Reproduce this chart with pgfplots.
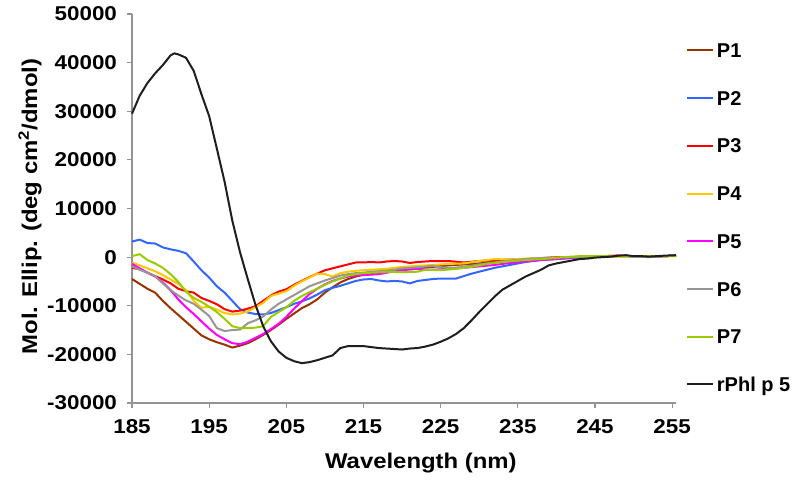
\documentclass[border=0pt]{standalone}
\usepackage{pgfplots}
\pgfplotsset{compat=1.18}
\usepackage{fontspec}
\setmainfont{Liberation Sans}
\newfontfamily\stfont[FakeStretch=1.12]{Liberation Sans}
\definecolor{cP1}{RGB}{153,51,0}
\definecolor{cP2}{RGB}{51,102,255}
\definecolor{cP3}{RGB}{255,0,0}
\definecolor{cP4}{RGB}{255,200,0}
\definecolor{cP5}{RGB}{255,0,255}
\definecolor{cP6}{RGB}{150,150,150}
\definecolor{cP7}{RGB}{153,204,0}
\definecolor{cPh}{RGB}{30,30,30}
\begin{document}
\begin{tikzpicture}
\useasboundingbox (0,0) rectangle (600pt,365.25pt);
\begin{axis}[
  at={(99pt,63pt)}, anchor=south west,
  scale only axis, width=408pt, height=291.75pt,
  xmin=185, xmax=255.5, ymin=-30000, ymax=50000,
  axis lines=left,
  axis line style={-, draw=gray!85, line width=0.8pt},
  tick style={draw=gray!85, line width=0.8pt},
  tick align=outside, major tick length=3.75pt,
  xtick={185,195,...,255},
  ytick={-30000,-20000,...,50000},
  scaled y ticks=false, scaled x ticks=false,
  /pgf/number format/assume math mode=true,
  /pgf/number format/1000 sep={},
  ticklabel style={font=\stfont\fontsize{15}{17}\selectfont\bfseries},
  xticklabel style={yshift=-5pt},
  yticklabel style={xshift=-4pt},
  label style={font=\stfont\fontsize{16}{18}\selectfont\bfseries},
  xlabel={Wavelength (nm)},
  ylabel={Mol. Ellip. (deg cm\textsuperscript{2}/dmol)},
  xlabel style={at={(axis description cs:0.531,-0.154)}, anchor=center},
  ylabel style={at={(axis description cs:-0.1875,0.505)}, anchor=center},
  clip=false,
  legend cell align=left,
  legend image code/.code={\draw[#1] (0pt,0pt) -- (19.5pt,0pt);},
  legend style={at={(1,1)}, anchor=north west, xshift=7.5pt, yshift=-21.8pt,
    draw=none, fill=none, inner sep=0pt, row sep=25.3pt, column sep=2pt,
    font=\fontsize{15}{17}\selectfont\bfseries,
    nodes={inner sep=0pt, text height=10.5pt, text depth=0pt}},
  every axis plot/.append style={line width=1.5pt, no markers},
]
\addplot[cP1] coordinates {
(185,-4500)(186,-5500)(187,-6500)(188,-7300)(189,-9000)(190,-10500)(191,-11900)(192,-13300)(193,-14700)(194,-16100)(195,-16900)(196,-17500)(197,-18000)(198,-18600)(199,-18200)(200,-17700)(201,-16900)(202,-16000)(203,-15000)(204,-13900)(205,-12700)(206,-11600)(207,-10500)(208,-9700)(209,-8700)(210,-7300)(211,-6200)(212,-5200)(213,-4500)(214,-4000)(215,-3600)(216,-3300)(217,-3000)(218,-2800)(219,-2700)(220,-2500)(221,-2300)(222,-2100)(224,-2000)(226,-1700)(228,-1500)(230,-1300)(232,-900)(234,-700)(236,-500)(238,-300)(240,-200)(242,-100)(244,0)(246,100)(248,200)(250,200)(252,100)(254,200)(255.5,300)};
\addlegendentry{P1}
\addplot[cP2] coordinates {
(185,3200)(186,3600)(187,2900)(188,2800)(189,2000)(190,1600)(191,1300)(192,800)(193,-900)(194,-2700)(195,-4200)(196,-6000)(197,-7300)(198,-9000)(199,-10700)(200,-11400)(201,-11700)(202,-11800)(203,-11500)(204,-10900)(205,-10300)(206,-9600)(207,-9100)(208,-8500)(209,-7700)(210,-6800)(211,-6300)(212,-5900)(213,-5400)(214,-4900)(215,-4600)(216,-4500)(217,-4800)(218,-5000)(219,-4900)(220,-5000)(221,-5400)(222,-4900)(223,-4700)(224,-4500)(225,-4400)(226,-4400)(227,-4400)(228,-3900)(229,-3400)(230,-3000)(231,-2600)(232,-2200)(233,-1900)(234,-1600)(235,-1300)(236,-1000)(237,-800)(238,-600)(240,-400)(242,-200)(244,0)(246,100)(248,200)(250,200)(252,100)(254,200)(255.5,300)};
\addlegendentry{P2}
\addplot[cP3] coordinates {
(185,-2200)(186,-2500)(187,-3200)(188,-3900)(189,-4600)(190,-5400)(191,-6500)(192,-7000)(193,-7300)(194,-8400)(195,-9000)(196,-9700)(197,-10700)(198,-11200)(199,-11000)(200,-10600)(201,-10100)(202,-9000)(203,-7900)(204,-7100)(205,-6600)(206,-5700)(207,-4900)(208,-4100)(209,-3400)(210,-2700)(211,-2300)(212,-1900)(213,-1500)(214,-1100)(215,-1100)(216,-1000)(217,-1100)(218,-900)(219,-800)(220,-900)(221,-1200)(222,-1000)(223,-900)(224,-800)(226,-800)(228,-1100)(230,-800)(232,-600)(234,-500)(236,-400)(238,-200)(240,0)(242,0)(244,100)(246,200)(248,300)(250,200)(252,200)(254,200)(255.5,300)};
\addlegendentry{P3}
\addplot[cP4] coordinates {
(185,-1100)(186,-1700)(187,-2300)(188,-2900)(189,-3700)(190,-4600)(191,-5500)(192,-6800)(193,-9000)(194,-10400)(195,-10200)(196,-10800)(197,-11500)(198,-11800)(199,-11600)(200,-11200)(201,-10300)(202,-9400)(203,-8000)(204,-7500)(205,-7000)(206,-5900)(207,-5000)(208,-4200)(209,-3400)(210,-3500)(211,-4000)(212,-3300)(213,-3000)(214,-2800)(215,-2700)(216,-2600)(217,-2500)(218,-2400)(219,-2200)(220,-2000)(222,-1800)(224,-1600)(226,-1400)(228,-1300)(230,-800)(232,-400)(234,-500)(236,-300)(238,-200)(240,-100)(242,0)(244,100)(246,200)(248,100)(250,200)(252,100)(254,200)(255.5,300)};
\addlegendentry{P4}
\addplot[cP5] coordinates {
(185,-1400)(186,-2300)(187,-3200)(188,-4000)(189,-5200)(190,-6800)(191,-8700)(192,-10300)(193,-11700)(194,-13200)(195,-14700)(196,-16000)(197,-16900)(198,-17700)(199,-17900)(200,-17400)(201,-16600)(202,-15800)(203,-14800)(204,-13700)(205,-12300)(206,-10600)(207,-9100)(208,-7600)(209,-6500)(210,-5600)(211,-4900)(212,-4400)(213,-4000)(214,-3800)(215,-3700)(216,-3600)(217,-3500)(218,-3200)(219,-2900)(220,-2700)(222,-2400)(224,-2600)(226,-2400)(228,-2200)(230,-1900)(232,-1600)(234,-1200)(236,-900)(238,-600)(240,-400)(242,-100)(244,0)(246,200)(248,300)(250,200)(252,100)(254,200)(255.5,300)};
\addlegendentry{P5}
\addplot[cP6] coordinates {
(185,-1900)(186,-2600)(187,-3200)(188,-3900)(189,-5400)(190,-6800)(191,-7900)(192,-8900)(193,-9600)(194,-10800)(195,-12100)(196,-14600)(197,-15200)(198,-15000)(199,-14900)(200,-13600)(201,-13000)(202,-12200)(203,-10800)(204,-9600)(205,-8700)(206,-7800)(207,-6900)(208,-6000)(209,-5400)(210,-4800)(211,-4300)(212,-3800)(213,-3500)(214,-3300)(215,-3200)(216,-3000)(217,-2900)(218,-2800)(219,-2600)(220,-2300)(222,-2100)(224,-1800)(226,-2300)(228,-2000)(230,-1500)(232,-1100)(234,-700)(236,-400)(238,-200)(240,-100)(242,0)(244,0)(246,100)(248,200)(250,100)(252,0)(254,200)(255.5,300)};
\addlegendentry{P6}
\addplot[cP7] coordinates {
(185,200)(186,600)(187,-600)(188,-1300)(189,-2200)(190,-3500)(191,-5100)(192,-7100)(193,-8400)(194,-9200)(195,-10200)(196,-11300)(197,-12700)(198,-14200)(199,-14600)(200,-14600)(201,-14500)(202,-14200)(203,-12300)(204,-11300)(205,-10300)(206,-9000)(207,-8000)(208,-7200)(209,-6500)(210,-5700)(211,-5000)(212,-4400)(213,-3800)(214,-3500)(215,-3300)(216,-3200)(217,-3100)(218,-3000)(220,-3100)(222,-3000)(223,-2600)(225,-2700)(227,-2400)(229,-2000)(231,-1400)(233,-1000)(235,-700)(237,-500)(239,-300)(241,0)(243,200)(245,200)(247,200)(249,200)(251,200)(253,200)(255.5,200)};
\addlegendentry{P7}
\addplot[cPh] coordinates {
(185,29500)(186,33200)(187,35800)(188,37800)(189,39500)(190,41500)(190.5,41900)(191,41700)(192,41000)(193,38300)(194,33500)(195,29000)(196,22300)(197,15500)(198,7500)(199,1000)(200,-4500)(201,-9800)(202,-14200)(203,-17300)(204,-19400)(205,-20700)(206,-21400)(207,-21800)(208,-21600)(209,-21200)(210,-20700)(211,-20200)(212,-18700)(213,-18300)(214,-18300)(215,-18300)(216,-18500)(217,-18700)(218,-18800)(219,-18900)(220,-19000)(221,-18800)(222,-18700)(223,-18400)(224,-18000)(225,-17400)(226,-16700)(227,-15800)(228,-14600)(229,-13000)(230,-11300)(231,-9700)(232,-8100)(233,-6700)(234,-5800)(235,-4900)(236,-4000)(237,-3300)(238,-2600)(239,-1700)(240,-1300)(241,-1000)(242,-700)(243,-400)(244,-300)(245,-100)(246,0)(247,100)(248,300)(249,400)(250,200)(251,200)(252,100)(253,200)(254,300)(255.5,400)};
\addlegendentry{rPhl p 5}
\end{axis}
\end{tikzpicture}
\end{document}
